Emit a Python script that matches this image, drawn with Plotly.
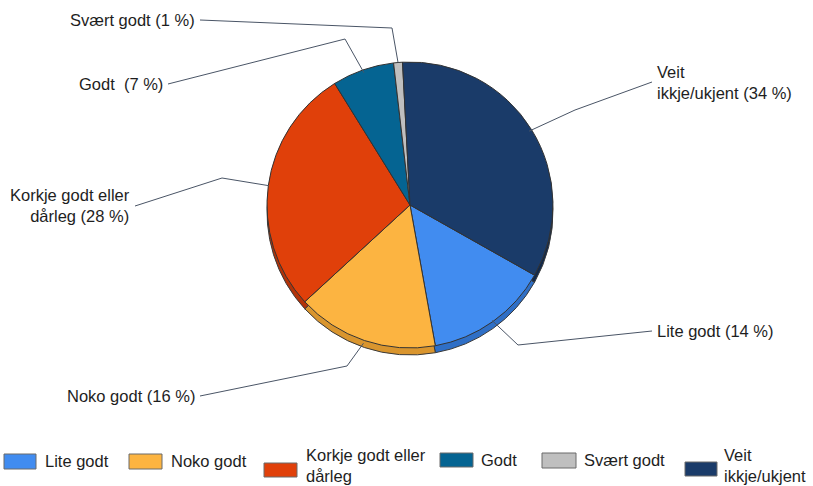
import plotly.graph_objects as go
import math

# Survey answer shares (percent), in legend order
categories = ["Lite godt", "Noko godt", "Korkje godt eller dårleg", "Godt", "Svært godt", "Veit ikkje/ukjent"]
shares = [14, 16, 28, 7, 1, 34]
legend_texts = ["Lite godt", "Noko godt", "Korkje godt eller<br>dårleg", "Godt", "Svært godt", "Veit<br>ikkje/ukjent"]
label_texts = ["Lite godt (14 %)", "Noko godt (16 %)", "Korkje godt eller<br>dårleg (28 %)",
               "Godt\u00a0 (7 %)", "Svært godt (1 %)", "Veit<br>ikkje/ukjent (34 %)"]

colors = ["#418CF0", "#FCB441", "#E0400A", "#056492", "#BFBFBF", "#1A3B69"]
rim_colors = ["#2F6FC6", "#D9952E", "#B33208", "#044C70", "#9A9A9A", "#11294B"]

W, H = 813, 486
CX, CY, R = 410, 205, 143      # pie centre and radius in pixels
RIM = 7                        # thickness of the lower rim
ROT = 119.4                    # start angle of first slice, clockwise from 12 o'clock
FONT = "Liberation Sans, Arial, sans-serif"
FS = 16.5
TXT = "#1e1e1e"
LINE = "#4a5566"


def px(x):
    return x / W


def py(y):
    return 1 - y / H


def pie_domain(cy):
    return dict(x=[px(CX - R), px(CX + R)], y=[py(cy + R), py(cy - R)])


fig = go.Figure()

# darker copy shifted down gives the pie its edge thickness
fig.add_trace(go.Pie(
    labels=categories, values=shares, sort=False, direction="clockwise", rotation=ROT,
    marker=dict(colors=rim_colors, line=dict(color="#3a3a3a", width=1)),
    textinfo="none", hoverinfo="skip", showlegend=False, domain=pie_domain(CY + RIM),
))
fig.add_trace(go.Pie(
    labels=categories, values=shares, sort=False, direction="clockwise", rotation=ROT,
    marker=dict(colors=colors, line=dict(color="#333333", width=1)),
    textinfo="none", hovertemplate="%{label}: %{value} %<extra></extra>",
    showlegend=False, domain=pie_domain(CY),
))

# outside labels: (text anchor x, y, horizontal alignment, elbow x, elbow y, radius factor)
label_layout = [
    (655, 331, "left", 518, 345, 0.99),
    (197, 396, "right", 347, 366, 1.02),
    (132, 206, "right", 222, 178, 1.0),
    (165, 84, "right", 345, 39, 0.98),
    (197, 20, "right", 392, 28, 1.0),
    (655, 82, "left", 575, 110, 0.98),
]

total = sum(shares)
start = ROT
shapes = []
annotations = []
for val, text, (tx, ty, side, ex, ey, rf) in zip(shares, label_texts, label_layout):
    mid = start + 360 * val / total / 2
    start += 360 * val / total
    a = math.radians(mid)
    sx = CX + R * rf * math.sin(a)
    sy = CY - R * rf * math.cos(a)
    lx = tx + 3 if side == "right" else tx - 3
    shapes.append(dict(type="path", xref="paper", yref="paper",
                       path=f"M{px(lx)},{py(ty)} L{px(ex)},{py(ey)} L{px(sx)},{py(sy)}",
                       line=dict(color=LINE, width=1)))
    annotations.append(dict(x=px(tx), y=py(ty), xref="paper", yref="paper", text=text,
                            showarrow=False, xanchor=side, yanchor="middle", align=side,
                            font=dict(family=FONT, size=FS, color=TXT)))

# legend row along the bottom: (swatch left, swatch right, swatch top, swatch bottom, text x, text y)
legend_layout = [
    (4, 36, 454, 469, 43, 461),
    (129, 162, 454, 469, 169, 461),
    (264, 297, 463, 477, 304, 465),
    (440, 473, 453, 467, 479, 460),
    (542, 576, 453, 468, 582, 460),
    (685, 717, 462, 476, 722, 465),
]
for col, text, (x0, x1, y0, y1, tx, ty) in zip(colors, legend_texts, legend_layout):
    shapes.append(dict(type="rect", xref="paper", yref="paper",
                       x0=px(x0), x1=px(x1), y0=py(y1), y1=py(y0),
                       fillcolor=col, line=dict(color="#6b6b6b", width=1)))
    annotations.append(dict(x=px(tx), y=py(ty), xref="paper", yref="paper", text=text,
                            showarrow=False, xanchor="left", yanchor="middle", align="left",
                            font=dict(family=FONT, size=FS, color=TXT)))

fig.update_layout(
    width=W, height=H,
    margin=dict(l=0, r=0, t=0, b=0),
    paper_bgcolor="white", plot_bgcolor="white",
    showlegend=False,
    shapes=shapes, annotations=annotations,
)

fig.write_html("out.html")
